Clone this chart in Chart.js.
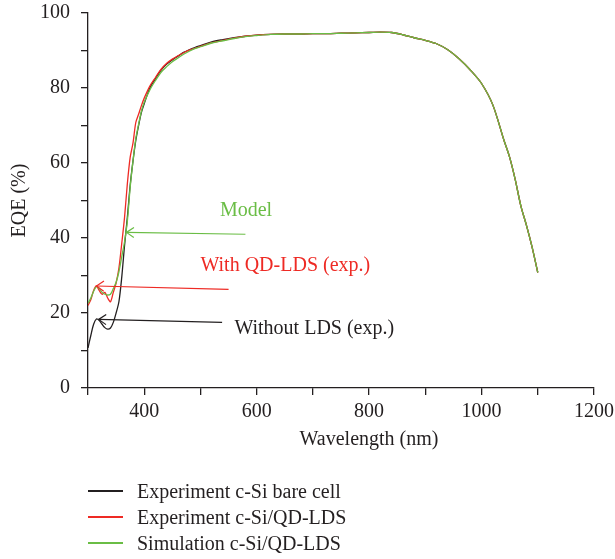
<!DOCTYPE html>
<html><head><meta charset="utf-8">
<script src="https://cdn.jsdelivr.net/npm/chart.js@4/dist/chart.umd.min.js"></script>
<style>
html,body{margin:0;padding:0;background:#fff;}
#wrap{position:relative;width:615px;height:559px;overflow:hidden;}
#c{position:absolute;left:0;top:0;}
#legend{position:absolute;left:88px;top:478px;font-family:'Liberation Serif','Times New Roman',serif;font-size:20px;color:#231f20;}
.item{display:flex;align-items:center;height:26px;white-space:nowrap;}
.sw{display:inline-block;width:35px;height:1.4px;margin-right:14px;}
</style></head>
<body><div id="wrap"><canvas id="c" width="615" height="559"></canvas><div id="legend"></div></div>
<script>
// ---- data ----
const wavelength = [300,305,310,315,320,325,330,335,340,345,350,355,360,365,370,375,380,385,390,395,400,410,420,430,440,450,460,470,480,490,500,520,540,560,580,600,625,650,675,700,725,750,775,800,820,840,860,880,900,920,940,960,980,1000,1020,1040,1050,1060,1070,1080,1090,1100];
const bareCell = [10.7,14,17,18.4,18,17,16.1,15.7,16,17.5,20,23,29.5,38,45.5,54,60.5,66,70,73.5,75.8,80,82.5,84.8,86.4,87.5,88.5,89.5,90.2,90.8,91.3,92.3,92.9,93.4,93.8,94.1,94.3,94.4,94.4,94.5,94.5,94.6,94.7,94.8,94.9,94.8,94.2,93.4,92.7,91.8,90.2,87.8,84.8,81.2,75.5,66,61.5,55.5,48.5,43.3,37.5,30.8];
const qdLds = [22,23.5,26,27.2,26,25,25.5,24,23,25.5,28,32,38.5,45.5,54.5,61.5,65.3,70.8,73,75.3,77.3,80.5,82.8,85,86.6,87.7,88.6,89.4,90.1,90.6,91.1,92.1,92.7,93.3,93.8,94.1,94.3,94.4,94.4,94.5,94.5,94.6,94.7,94.8,94.9,94.8,94.2,93.4,92.7,91.8,90.2,87.8,84.8,81.2,75.5,66,61.5,55.5,48.5,43.3,37.5,30.8];
const simulation = [22.6,24,25.8,27,26.5,25.5,25,24.8,25,26.5,28.2,31,35,39,44.5,53.5,60.5,66.5,70.3,73.8,76.2,79.5,82,84.2,85.7,87,88,89,89.8,90.5,91,92,92.6,93.2,93.7,94,94.3,94.4,94.4,94.5,94.5,94.6,94.7,94.8,94.9,94.8,94.2,93.4,92.7,91.8,90.2,87.8,84.8,81.2,75.5,66,61.5,55.5,48.5,43.3,37.5,30.8];
const seriesLabels = ['Experiment c-Si bare cell','Experiment c-Si/QD-LDS','Simulation c-Si/QD-LDS'];
const xTickLabels = [400,600,800,1000,1200];
const yTickLabels = [0,20,40,60,80,100];
const annotationTexts = ['Model','With QD-LDS (exp.)','Without LDS (exp.)'];
const annotationTextAt = [[581,47.3],[651,32.5],[702.5,15.7]];
const arrowTails = [[580,41],[550,26.3],[538.5,17.5]];
const arrowTips = [[368.4,41.5],[315,27.2],[319,18.3]];

// ---- styles ----
const colors = ['#231f20','#ee2a24','#6abd45'];
const FONT = "'Liberation Serif','Times New Roman',serif";

const series = [bareCell, qdLds, simulation];
const datasets = series.map((vals, i) => ({
  label: seriesLabels[i],
  data: wavelength.map((w, j) => ({x: w, y: vals[j]})),
  borderColor: colors[i],
  backgroundColor: colors[i],
  borderWidth: 1.3,
  pointRadius: 0,
  tension: 0.3,
  fill: false,
  order: 3 - i
}));

const annotationPlugin = {
  id: 'annot',
  afterDatasetsDraw(chart) {
    const {ctx, scales: {x, y}} = chart;
    const annColors = [colors[2], colors[1], colors[0]];
    ctx.save();
    ctx.lineWidth = 1.2;
    for (let i = 0; i < arrowTails.length; i++) {
      const x0 = x.getPixelForValue(arrowTails[i][0]), y0 = y.getPixelForValue(arrowTails[i][1]);
      const x1 = x.getPixelForValue(arrowTips[i][0]), y1 = y.getPixelForValue(arrowTips[i][1]);
      ctx.strokeStyle = annColors[i];
      ctx.beginPath(); ctx.moveTo(x0, y0); ctx.lineTo(x1, y1); ctx.stroke();
      const ang = Math.atan2(y0 - y1, x0 - x1);
      const L = 9, a = 0.6;
      ctx.beginPath();
      ctx.moveTo(x1 + L * Math.cos(ang + a), y1 + L * Math.sin(ang + a));
      ctx.lineTo(x1, y1);
      ctx.lineTo(x1 + L * Math.cos(ang - a), y1 + L * Math.sin(ang - a));
      ctx.stroke();
    }
    ctx.font = '20px ' + FONT;
    ctx.textAlign = 'center';
    ctx.textBaseline = 'middle';
    for (let i = 0; i < annotationTexts.length; i++) {
      ctx.fillStyle = annColors[i];
      ctx.fillText(annotationTexts[i], x.getPixelForValue(annotationTextAt[i][0]), y.getPixelForValue(annotationTextAt[i][1]));
    }
    ctx.restore();
  },
  afterDraw(chart) {
    const ctx = chart.ctx;
    ctx.save();
    ctx.font = '20px ' + FONT;
    ctx.fillStyle = '#231f20';
    ctx.textAlign = 'center';
    ctx.textBaseline = 'middle';
    ctx.fillText('Wavelength (nm)', 369, 440);
    ctx.restore();
  }
};

new Chart(document.getElementById('c'), {
  type: 'line',
  data: {datasets},
  plugins: [annotationPlugin],
  options: {
    responsive: false,
    animation: false,
    devicePixelRatio: 1,
    layout: {padding: {left: 0, top: 13, right: 21, bottom: 0}},
    plugins: {legend: {display: false}, tooltip: {enabled: false}},
    scales: {
      x: {
        type: 'linear', min: 300, max: 1200,
        afterFit(s) { s.height = 171; s.paddingLeft = 0; s.paddingRight = 0; },
        border: {display: true, color: '#231f20', width: 1.3},
        grid: {display: true, drawOnChartArea: false, drawTicks: true, tickLength: 7, color: '#231f20', lineWidth: 1.3},
        ticks: {
          stepSize: 100, padding: 5, maxRotation: 0, autoSkip: false,
          color: '#231f20', font: {family: FONT, size: 20},
          callback: v => xTickLabels.includes(v) ? String(v) : ''
        }
      },
      y: {
        type: 'linear', min: 0, max: 100,
        afterFit(s) { s.width = 88; s.paddingTop = 0; s.paddingBottom = 0; },
        border: {display: true, color: '#231f20', width: 1.3},
        grid: {display: true, drawOnChartArea: false, drawTicks: true, tickLength: 7, color: '#231f20', lineWidth: 1.3},
        ticks: {
          stepSize: 10, padding: 11, autoSkip: false,
          color: '#231f20', font: {family: FONT, size: 20},
          callback: v => yTickLabels.includes(v) ? String(v) : ''
        },
        title: {display: true, text: 'EQE (%)', color: '#231f20', font: {family: FONT, size: 20}, padding: {top: 8, bottom: 0}}
      }
    }
  }
});

// HTML legend built from the series
const lg = document.getElementById('legend');
seriesLabels.forEach((t, i) => {
  const d = document.createElement('div'); d.className = 'item';
  const s = document.createElement('span'); s.className = 'sw'; s.style.background = colors[i];
  const l = document.createElement('span'); l.textContent = t;
  d.appendChild(s); d.appendChild(l); lg.appendChild(d);
});
</script>
</body></html>
